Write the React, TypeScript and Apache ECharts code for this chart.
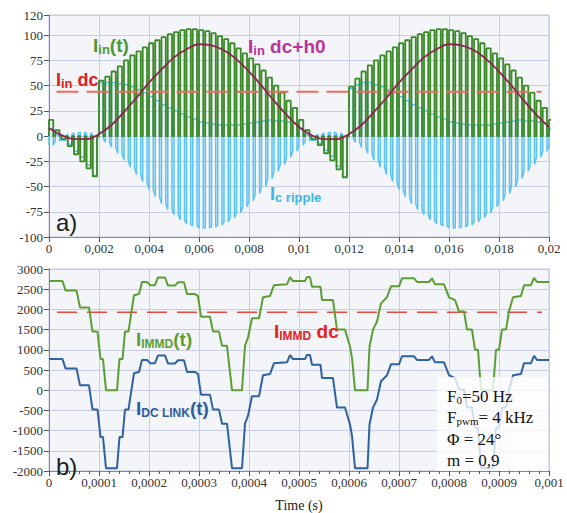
import { useEffect, useRef } from 'react';
import * as echarts from 'echarts';

// ---------- top chart (a) data ----------
const pwmPeriod = 0.00025; // s, 4 kHz carrier
const onFraction = 0.68;
// Iin(t) pulse level for each PWM period (k = 0..80)
const inPulse = [
  16, 6, -3, -10, -18, -25, -32, -40, 55, 59, 64, 69, 75, 80, 84, 88, 92, 95, 98, 101,
  103, 105, 106, 106, 105, 104, 102, 99, 96, 92, 87, 82, 77, 71, 65, 58, 50, 43, 35, 28,
  16, 6, -3, -9, -17, -24, -33, -41, 49, 57, 64, 70, 75, 80, 84, 88, 92, 95, 98, 101,
  103, 105, 106, 106, 105, 104, 102, 99, 96, 92, 87, 82, 77, 71, 65, 58, 50, 43, 35, 28,
  16,
];
// Ic ripple level while the pulse is on
const rippleOn = [
  7, 1, -4, -8, -15, -21, -29, -39, 53, 53, 53, 52, 51, 49, 46, 43, 39, 35, 31, 28,
  25, 22, 19, 17, 14, 13, 12, 11, 11, 11, 11, 12, 13, 14, 15, 16, 15, 15, 14, 13,
  7, 1, -4, -7, -14, -20, -30, -40, 47, 51, 53, 53, 51, 49, 46, 43, 39, 35, 31, 28,
  25, 22, 19, 17, 14, 13, 12, 11, 11, 11, 11, 12, 13, 14, 15, 16, 15, 15, 14, 13,
  7,
];
// Ic ripple level while the pulse is off
const rippleOff = [
  -9, -5, -1, 2, 3, 4, 3, 1, -2, -6, -11, -17, -24, -31, -38, -45, -53, -60, -67, -73,
  -78, -83, -87, -89, -91, -91, -90, -88, -85, -81, -76, -70, -64, -57, -50, -42, -35, -28, -21, -15,
  -9, -5, -1, 2, 3, 4, 3, 1, -2, -6, -11, -17, -24, -31, -38, -45, -53, -60, -67, -73,
  -78, -83, -87, -89, -91, -91, -90, -88, -85, -81, -76, -70, -64, -57, -50, -42, -35, -28, -21, -15,
  -9,
];
// Iin dc + h0, sampled every 0.5 ms
const h0Step = 0.0005;
const h0Curve = [
  8, 1, -3, -3, 2, 11, 24, 38, 53, 66, 78, 86, 91, 90, 85, 76, 64, 50, 35, 21,
  9, 1, -3, -3, 2, 11, 24, 38, 53, 66, 78, 86, 91, 90, 85, 76, 64, 50, 35, 21, 9,
];
const inDcLevel = 44;
const inDcSpan = [0.0003, 0.0197];

// ---------- bottom chart (b) data ----------
const immdTimeUs = [
  0, 27, 33, 55, 62, 80, 87, 97, 103, 108, 114, 136, 141, 147, 152, 159, 165, 170, 180, 186,
  196, 202, 212, 218, 232, 238, 252, 258, 270, 276, 292, 298, 304, 322, 328, 340, 346, 356, 366, 386,
  392, 398, 406, 420, 428, 442, 450, 476, 482, 488, 512, 516, 522, 526, 543, 546, 568, 576, 592, 602,
  606, 612, 637, 641, 648, 656, 664, 676, 684, 700, 706, 730, 736, 760, 766, 772, 790, 800, 812, 820,
  830, 836, 846, 852, 858, 864, 888, 894, 900, 906, 914, 920, 928, 944, 950, 964, 970, 976, 1000,
];
const immdValues = [
  2700, 2700, 2470, 2470, 2050, 2050, 1450, 1450, 770, 770, 0, 0, 770, 770, 1450, 1450, 1950, 2350, 2380, 2680,
  2680, 2600, 2600, 2790, 2790, 2590, 2590, 2670, 2670, 2380, 2380, 2330, 1820, 1820, 1450, 1450, 1100, 1100, 0, 0,
  1100, 1300, 1780, 1780, 2300, 2330, 2600, 2620, 2800, 2700, 2700, 2800, 2800, 2560, 2560, 2230, 2230, 1500, 1500, 1080,
  800, 0, 0, 1080, 1500, 1700, 2150, 2300, 2570, 2570, 2770, 2770, 2680, 2680, 2770, 2620, 2620, 2300, 2230, 1950,
  1950, 1500, 1500, 1000, 1000, 0, 0, 1000, 1000, 1500, 1500, 1950, 2300, 2330, 2600, 2600, 2780, 2680, 2680,
];
const dcLinkValues = [
  770, 770, 540, 540, 120, 120, -480, -480, -1160, -1160, -1930, -1930, -1160, -1160, -480, -480, 20, 420, 450, 750,
  750, 670, 670, 860, 860, 660, 660, 740, 740, 450, 450, 400, -110, -110, -480, -480, -830, -830, -1930, -1930,
  -830, -630, -150, -150, 370, 400, 670, 690, 870, 770, 770, 870, 870, 630, 630, 300, 300, -430, -430, -850,
  -1130, -1930, -1930, -850, -430, -230, 220, 370, 640, 640, 840, 840, 750, 750, 840, 690, 690, 370, 300, 20,
  20, -430, -430, -930, -930, -1930, -1930, -930, -930, -430, -430, 20, 370, 400, 670, 670, 850, 750, 750,
];
const immdDcLevel = 1930;
const immdDcSpanUs = [16, 986];

const topYTicks = { min: -100, max: 120, interval: 25 };
const botYTicks = { min: -2000, max: 3000, interval: 500 };
const paramLines = ['F0=50 Hz', 'Fpwm= 4 kHz', 'Φ = 24°', 'm = 0,9'];

const fmt = (v: number) => {
  if (v === 0) return '0';
  return String(Number(v.toPrecision(6))).replace('.', ',');
};

function buildPulseLine(levelOn: number[], levelOff: number[] | null) {
  const pts: number[][] = [];
  levelOn.forEach((on, k) => {
    const off = levelOff ? levelOff[k] : 0;
    const t0 = k * pwmPeriod;
    const t1 = t0 + onFraction * pwmPeriod;
    pts.push([t0, off], [t0, on], [t1, on], [t1, off]);
  });
  return pts;
}

const gridColor = '#c9cce6';
const axisLabelStyle = {
  fontFamily: 'Liberation Sans Narrow',
  fontSize: 13,
  color: '#333',
};

function subLabel(
  x: number,
  y: number,
  main: string,
  sub: string,
  tail: string,
  color: string,
  size: number,
  subSize: number,
) {
  return {
    type: 'text',
    x,
    y,
    zlevel: 1,
    z: 100,
    style: {
      text: `{m|${main}}{s|${sub}}{m|${tail}}`,
      textVerticalAlign: 'bottom',
      rich: {
        m: {
          fontFamily: 'Liberation Sans',
          fontWeight: 'bold',
          fontSize: size,
          fill: color,
          lineHeight: size + 2,
          verticalAlign: 'middle',
        },
        s: {
          fontFamily: 'Liberation Sans',
          fontWeight: 'bold',
          fontSize: subSize,
          fill: color,
          lineHeight: subSize - 2,
          verticalAlign: 'bottom',
        },
      },
    },
  };
}

export default function App() {
  const ref = useRef<HTMLDivElement>(null);
  useEffect(() => {
    if (!ref.current) return;
    const chart = echarts.init(ref.current, null, { renderer: 'svg' });

    const greenPulse = buildPulseLine(inPulse, null);
    const bluePulse = buildPulseLine(rippleOn, rippleOff);
    const h0Data = h0Curve.map((v, i) => [i * h0Step, v]);
    const immdData = immdTimeUs.map((t, i) => [t / 1e6, immdValues[i]]);
    const dcData = immdTimeUs.map((t, i) => [t / 1e6, dcLinkValues[i]]);

    const option: any = {
      animation: false,
      backgroundColor: '#ffffff',
      grid: [
        { left: 49, top: 15, width: 500, height: 222, show: true, backgroundColor: '#f3f5f9', borderColor: '#c4c7dc' },
        { left: 49, top: 269, width: 500, height: 203, show: true, backgroundColor: '#f3f5f9', borderColor: '#c4c7dc' },
      ],
      xAxis: [
        {
          gridIndex: 0,
          type: 'value',
          min: 0,
          max: 0.02,
          interval: 0.002,
          axisLine: { onZero: false, lineStyle: { color: '#8a8a8a' } },
          axisTick: { length: 5, lineStyle: { color: '#555' } },
          axisLabel: { ...axisLabelStyle, margin: 5, formatter: fmt },
          splitLine: { lineStyle: { color: gridColor } },
        },
        {
          gridIndex: 1,
          type: 'value',
          min: 0,
          max: 0.001,
          interval: 0.0001,
          axisLine: { onZero: false, lineStyle: { color: '#8a8a8a' } },
          axisTick: { length: 5, lineStyle: { color: '#555' } },
          minorTick: { show: true, splitNumber: 5, length: 3, lineStyle: { color: '#555' } },
          axisLabel: { ...axisLabelStyle, margin: 5, formatter: fmt },
          splitLine: { lineStyle: { color: gridColor } },
          name: 'Time (s)',
          nameLocation: 'middle',
          nameGap: 27,
          nameTextStyle: { fontFamily: 'Liberation Serif', fontSize: 14, color: '#222' },
        },
      ],
      yAxis: [
        {
          gridIndex: 0,
          type: 'value',
          ...topYTicks,
          axisLine: { show: true, lineStyle: { color: '#8a8a8a' } },
          axisTick: { show: true, length: 5, lineStyle: { color: '#555' } },
          axisLabel: { ...axisLabelStyle, margin: 6, formatter: (v: number) => String(v) },
          splitLine: { lineStyle: { color: gridColor } },
        },
        {
          gridIndex: 1,
          type: 'value',
          ...botYTicks,
          axisLine: { show: true, lineStyle: { color: '#8a8a8a' } },
          axisTick: { show: true, length: 5, lineStyle: { color: '#555' } },
          axisLabel: { ...axisLabelStyle, margin: 6, formatter: (v: number) => String(v) },
          splitLine: { lineStyle: { color: gridColor } },
        },
      ],
      series: [
        {
          type: 'line',
          name: 'Ic ripple',
          xAxisIndex: 0,
          yAxisIndex: 0,
          data: bluePulse,
          showSymbol: false,
          lineStyle: { color: '#5bc3f1', width: 1.5 },
        },
        {
          type: 'line',
          name: 'Iin(t)',
          xAxisIndex: 0,
          yAxisIndex: 0,
          data: greenPulse,
          showSymbol: false,
          lineStyle: { color: '#3a8a26', width: 1.8 },
        },
        {
          type: 'line',
          name: 'Iin dc',
          xAxisIndex: 0,
          yAxisIndex: 0,
          data: inDcSpan.map((t) => [t, inDcLevel]),
          showSymbol: false,
          lineStyle: { color: '#ee6a5e', width: 2, type: [22, 8] },
        },
        {
          type: 'line',
          name: 'Iin dc+h0',
          xAxisIndex: 0,
          yAxisIndex: 0,
          data: h0Data,
          smooth: 0.4,
          showSymbol: false,
          lineStyle: { color: '#8e2452', width: 1.8 },
        },
        {
          type: 'line',
          name: 'IMMD dc',
          xAxisIndex: 1,
          yAxisIndex: 1,
          data: immdDcSpanUs.map((t) => [t / 1e6, immdDcLevel]),
          showSymbol: false,
          lineStyle: { color: '#e8483f', width: 1.5, type: [20, 10] },
        },
        {
          type: 'line',
          name: 'IIMMD(t)',
          xAxisIndex: 1,
          yAxisIndex: 1,
          data: immdData,
          showSymbol: false,
          lineStyle: { color: '#5c9e34', width: 2 },
        },
        {
          type: 'line',
          name: 'IDC LINK(t)',
          xAxisIndex: 1,
          yAxisIndex: 1,
          data: dcData,
          showSymbol: false,
          lineStyle: { color: '#2f62a0', width: 2 },
        },
      ],
      graphic: [
        subLabel(93, 56, 'I', 'in', '(t)', '#4a9a37', 19, 13),
        subLabel(248, 57, 'I', 'in', ' dc+h0', '#b8349a', 19, 13),
        subLabel(56, 90, 'I', 'in', ' dc', '#e0201c', 18, 13),
        subLabel(270, 204, 'I', 'c ripple', '', '#3cb6ea', 18, 13),
        {
          type: 'text',
          x: 56,
          y: 234,
          zlevel: 1,
          z: 100,
          style: { text: 'a)', fontFamily: 'Liberation Sans', fontSize: 24, fill: '#222', textVerticalAlign: 'bottom' },
        },
        subLabel(136, 350, 'I', 'IMMD', '(t)', '#5c9e34', 19, 12),
        subLabel(274, 342, 'I', 'IMMD', ' dc', '#e8221c', 19, 12),
        subLabel(136, 419, 'I', 'DC LINK', '(t)', '#2f5f9a', 19, 12),
        {
          type: 'text',
          x: 56,
          y: 478,
          zlevel: 1,
          z: 100,
          style: { text: 'b)', fontFamily: 'Liberation Sans', fontSize: 24, fill: '#222', textVerticalAlign: 'bottom' },
        },
        {
          type: 'rect',
          zlevel: 1,
          z: 90,
          shape: { x: 437, y: 377, width: 111, height: 94 },
          style: { fill: 'rgba(255,255,255,0.78)' },
        },
        ...paramLines.map((line, i) => {
          const m = line.match(/^(F)(0|pwm)(.*)$/);
          const base = {
            fontFamily: 'Liberation Serif',
            fontSize: 17,
            fill: '#111',
            lineHeight: 18,
            verticalAlign: 'middle',
          };
          return {
            type: 'text',
            x: 447,
            y: 405 + i * 21.3,
            zlevel: 1,
            z: 100,
            style: m
              ? {
                  text: `{a|${m[1]}}{b|${m[2]}}{a|${m[3]}}`,
                  textVerticalAlign: 'bottom',
                  rich: {
                    a: base,
                    b: { ...base, fontSize: 11, lineHeight: 10, verticalAlign: 'bottom' },
                  },
                }
              : { text: line, fontFamily: 'Liberation Serif', fontSize: 17, fill: '#111', textVerticalAlign: 'bottom' },
          };
        }),
      ],
    };
    chart.setOption(option);
    return () => chart.dispose();
  }, []);
  return (
    <div
      ref={ref}
      style={{ position: 'fixed', left: 0, top: 0, width: 567, height: 513, background: '#fff' }}
    />
  );
}
